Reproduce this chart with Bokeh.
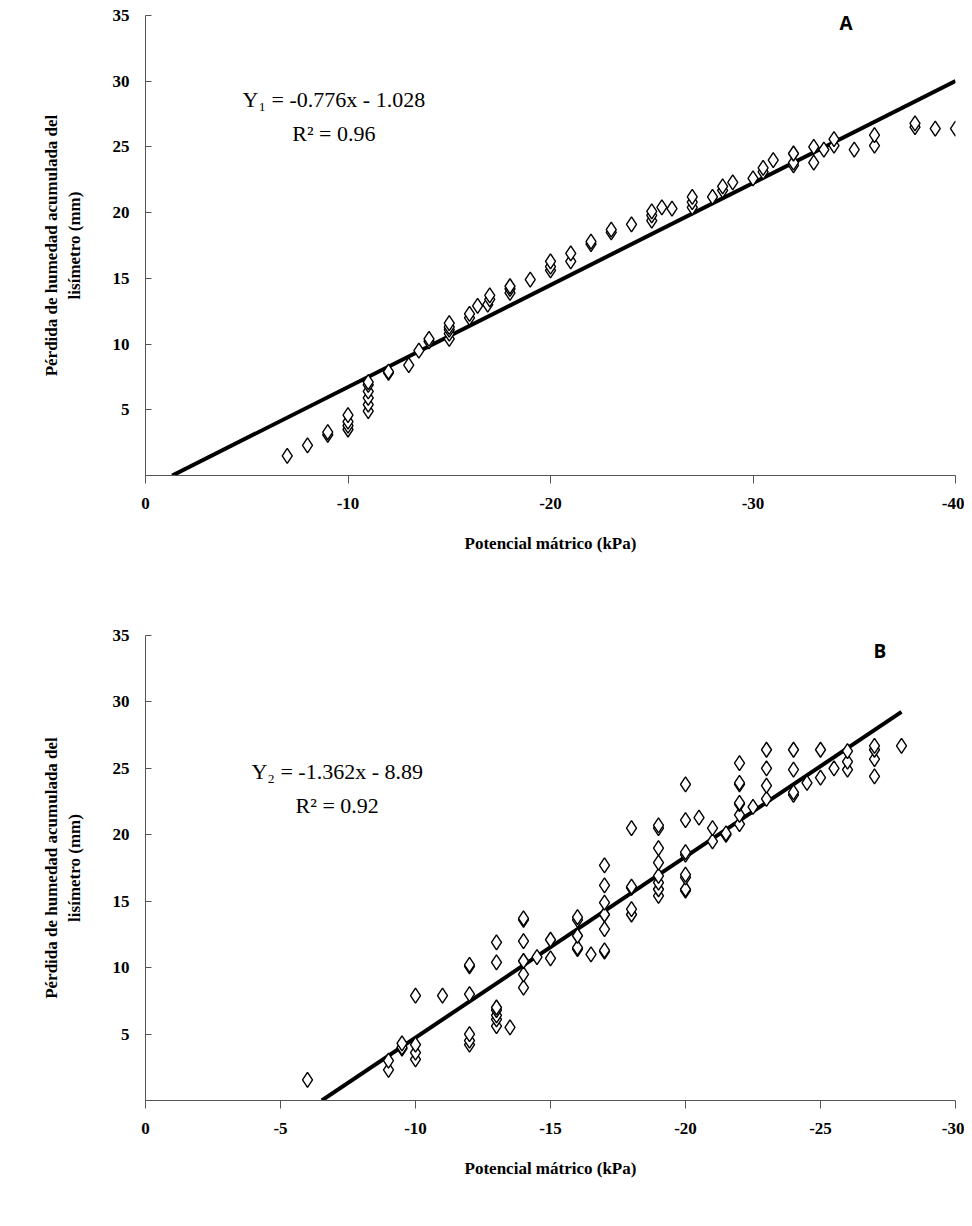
from bokeh.plotting import figure
from bokeh.models import Range1d, Label, FixedTicker
from bokeh.layouts import column
from bokeh.embed import file_html
from bokeh.resources import INLINE

# panel A: matric potential (kPa) vs accumulated moisture loss (mm)
xa = [-7, -8, -9, -9, -10, -10, -10, -10, -11, -11, -11, -11, -11, -11,
      -12, -12, -13, -13.5, -14, -14, -15, -15, -15, -15, -15, -16, -16,
      -16.4, -16.9, -17, -17, -18, -18, -18, -19, -20, -20, -20, -21, -21,
      -22, -22, -23, -23, -24, -25, -25, -25, -25.5, -26, -27, -27, -27,
      -28, -28.5, -28.5, -29, -30, -30.5, -30.5, -31, -32, -32, -32, -33, -33,
      -33.5, -34, -34, -35, -36, -36, -38, -38, -39, -40]
ya = [1.5, 2.3, 3.1, 3.3, 3.5, 3.8, 4.1, 4.6, 4.9, 5.4, 5.9, 6.4, 6.9, 7.1,
      7.8, 7.9, 8.4, 9.5, 10.2, 10.4, 10.4, 10.8, 11.1, 11.3, 11.6, 12.0, 12.3,
      12.9, 13.0, 13.4, 13.7, 13.9, 14.2, 14.4, 14.9, 15.6, 15.9, 16.3, 16.3, 16.9,
      17.6, 17.8, 18.5, 18.7, 19.1, 19.4, 19.8, 20.1, 20.4, 20.3, 20.4, 20.8, 21.2,
      21.2, 21.7, 22.0, 22.3, 22.6, 23.1, 23.4, 24.0, 23.6, 23.8, 24.5, 23.8, 25.0,
      24.8, 25.1, 25.6, 24.8, 25.1, 25.9, 26.5, 26.8, 26.4, 26.4]
fit_a = (-0.776, -1.028)
fit_a_x = [-1.32, -40]
ticks_a = [0, -10, -20, -30, -40]

# panel B
xb = [-6, -9, -9, -9.5, -9.5, -9.5, -10, -10, -10, -10, -11,
      -12, -12, -12, -12, -12, -12,
      -13, -13, -13, -13, -13, -13, -13, -13.5,
      -14, -14, -14, -14, -14, -14, -14.5, -15, -15,
      -16, -16, -16, -16, -16, -16.5,
      -17, -17, -17, -17, -17, -17, -17,
      -18, -18, -18, -18, -18,
      -19, -19, -19, -19, -19, -19, -19, -19,
      -20, -20, -20, -20, -20, -20, -20, -20, -20.5,
      -21, -21, -21.5, -21.5,
      -22, -22, -22, -22, -22, -22, -22, -22.5,
      -23, -23, -23, -23, -24, -24, -24, -24, -24.5, -25, -25,
      -25.5, -26, -26, -26, -27, -27, -27, -27, -28]
yb = [1.55, 2.3, 3.0, 3.9, 4.0, 4.3, 3.1, 3.6, 4.2, 7.9, 7.9,
      4.2, 4.5, 5.0, 8.0, 10.1, 10.2,
      5.6, 6.1, 6.4, 6.8, 7.0, 10.4, 11.9, 5.5,
      8.5, 9.5, 10.5, 12.0, 13.6, 13.7, 10.8, 10.7, 12.1,
      11.4, 11.5, 12.4, 13.6, 13.8, 11.0,
      11.2, 11.3, 12.9, 14.0, 14.9, 16.2, 17.7,
      14.0, 14.4, 16.0, 16.1, 20.5,
      15.4, 15.9, 16.4, 16.9, 17.9, 19.0, 20.5, 20.7,
      15.8, 15.9, 16.8, 17.0, 18.5, 18.7, 21.1, 23.8, 21.3,
      19.5, 20.5, 20.0, 20.1,
      20.8, 21.5, 22.3, 22.4, 23.8, 23.9, 25.4, 22.1,
      22.7, 23.7, 25.0, 26.4, 23.0, 23.2, 24.9, 26.4, 23.9, 24.3, 26.4,
      25.0, 24.9, 25.5, 26.3, 24.4, 25.7, 26.4, 26.7, 26.7]
fit_b = (-1.362, -8.89)
fit_b_x = [-6.53, -28]
ticks_b = [0, -5, -10, -15, -20, -25, -30]

y_ticks = [0, 5, 10, 15, 20, 25, 30, 35]

SERIF = "Liberation Serif"


def panel(xs, ys, fit, fit_x, xmin, xticks, eq, r2, eqpos, letter, letterpos,
          h, top, bottom):
    p = figure(width=964, height=h, output_backend="svg", toolbar_location=None,
               x_range=Range1d(0, xmin), y_range=Range1d(0, 35),
               min_border_left=145, min_border_right=9,
               min_border_top=top, min_border_bottom=bottom)
    p.xgrid.visible = False
    p.ygrid.visible = False
    p.outline_line_color = None
    p.background_fill_color = "white"

    p.xaxis.ticker = FixedTicker(ticks=xticks)
    p.xaxis.major_label_overrides = {t: str(t) for t in xticks}
    p.yaxis.ticker = FixedTicker(ticks=y_ticks)
    p.yaxis.major_label_overrides = {t: ("" if t == 0 else str(t)) for t in y_ticks}
    for ax in (p.xaxis[0], p.yaxis[0]):
        ax.axis_line_color = "#555555"
        ax.major_tick_line_color = "#555555"
        ax.minor_tick_line_color = None
        ax.major_label_text_font = SERIF
        ax.major_label_text_font_style = "bold"
        ax.major_label_text_font_size = "17px"
        ax.major_label_text_color = "black"
        ax.axis_label_text_font = SERIF
        ax.axis_label_text_font_style = "bold"
        ax.axis_label_text_font_size = "17px"
        ax.axis_label_text_color = "black"
    p.xaxis.major_tick_out = 8
    p.xaxis.major_tick_in = 0
    p.yaxis.major_tick_out = 0
    p.yaxis.major_tick_in = 6
    p.xaxis.major_label_standoff = 14
    p.xaxis.axis_label_standoff = 22
    p.yaxis.major_label_standoff = 16
    p.yaxis.axis_label_standoff = 26
    p.xaxis.axis_label = "Potencial mátrico (kPa)"
    p.yaxis.axis_label = "Pérdida de humedad acumulada del\nlisímetro (mm)"

    fy = [fit[0] * v + fit[1] for v in fit_x]
    p.line(fit_x, fy, line_color="black", line_width=4)
    p.scatter(xs, ys, marker="diamond", size=15, fill_color="white",
              line_color="black", line_width=1.4)

    p.add_layout(Label(x=eqpos[0], y=eqpos[1], text=eq, text_font=SERIF,
                       text_font_size="22px", text_align="center",
                       text_color="black", text_baseline="middle"))
    p.add_layout(Label(x=eqpos[0], y=eqpos[1] - 2.6, text=r2, text_font=SERIF,
                       text_font_size="22px", text_align="center",
                       text_color="black", text_baseline="middle"))
    p.add_layout(Label(x=letterpos[0], y=letterpos[1], text=letter,
                       text_font="Open Sans", text_font_style="bold",
                       text_font_size="19px", text_align="center",
                       text_color="black", text_baseline="middle"))
    return p


pa = panel(xa, ya, fit_a, fit_a_x, -40, ticks_a,
           "Y\u2081 = -0.776x - 1.028", "R\u00b2 = 0.96", (-9.3, 28.6),
           "A", (-34.6, 34.4), 600, 15, 125)
pb = panel(xb, yb, fit_b, fit_b_x, -30, ticks_b,
           "Y\u2082 = -1.362x - 8.89", "R\u00b2 = 0.92", (-7.1, 24.8),
           "B", (-27.2, 33.8), 610, 35, 110)

layout = column(pa, pb, spacing=0)
open("out.html", "w").write(file_html(layout, INLINE))
